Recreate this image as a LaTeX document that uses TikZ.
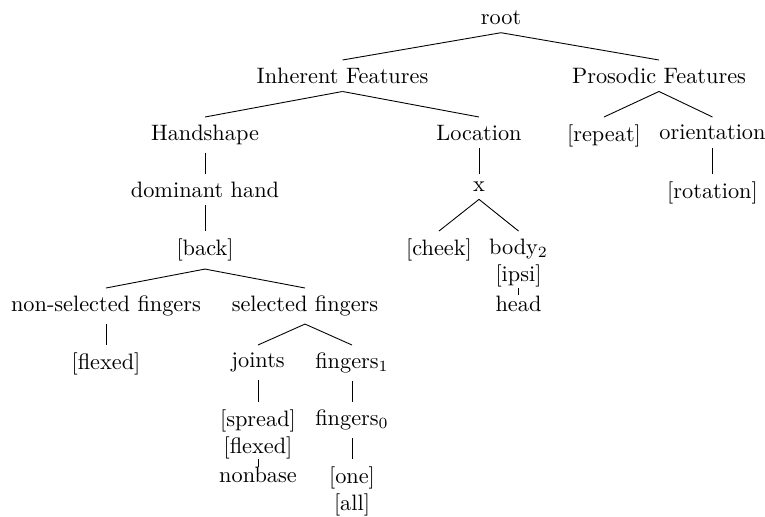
\documentclass[tikz,border=0pt]{standalone}
\begin{document}
\begin{tikzpicture}[x=0.4484pt,y=-0.4484pt,
  tn/.style={anchor=north, inner sep=3.33pt},
  mn/.style={anchor=north, inner sep=3.33pt, align=center},
  br/.style={draw, line width=0.4pt}]
\useasboundingbox (0,0) rectangle (765,516);
% level 0
\node[tn] (root) at (501,3) {root};
% level 1
\node[tn] (inh) at (342.5,60) {Inherent Features};
\node[tn] (pro) at (659,60) {Prosodic Features};
% level 2
\node[tn] (hand) at (205,117) {Handshape};
\node[tn] (loc) at (479,117) {Location};
\node[tn] (rep) at (604,117) {[repeat]};
\node[tn] (ori) at (712.5,117) {orientation};
% level 3
\node[tn] (dom) at (205,174) {dominant hand};
\node[tn] (x) at (479,174) {x};
\node[tn] (rot) at (712.5,174) {[rotation]};
% level 4
\node[tn] (back) at (205,231) {[back]};
\node[tn] (cheek) at (439,231) {[cheek]};
\node[mn] (body) at (518.5,231) {body$_2$\\[0pt][ipsi]};
% level 5
\node[tn] (nsf) at (106,288) {non-selected fingers};
\node[tn] (sf) at (305,288) {selected fingers};
\node[tn] (head) at (518.5,288) {head};
% level 6
\node[tn] (flx) at (106,345) {[flexed]};
\node[tn] (joi) at (258,345) {joints};
\node[tn] (fa) at (352,345) {fingers$_1$};
% level 7
\node[mn] (spr) at (258,402) {[spread]\\[0pt][flexed]};
\node[tn] (fb) at (352,402) {fingers$_0$};
% level 8
\node[tn] (nb) at (258,459) {nonbase};
\node[mn] (one) at (352,459) {[one]\\[0pt][all]};
% edges
\draw[br] (root.south) -- (inh.north);
\draw[br] (root.south) -- (pro.north);
\draw[br] (inh.south) -- (hand.north);
\draw[br] (inh.south) -- (loc.north);
\draw[br] (pro.south) -- (rep.north);
\draw[br] (pro.south) -- (ori.north);
\draw[br] (hand.south) -- (dom.north);
\draw[br] (loc.south) -- (x.north);
\draw[br] (ori.south) -- (rot.north);
\draw[br] (dom.south) -- (back.north);
\draw[br] (x.south) -- (cheek.north);
\draw[br] (x.south) -- (body.north);
\draw[br] (body.south) -- (head.north);
\draw[br] (back.south) -- (nsf.north);
\draw[br] (back.south) -- (sf.north);
\draw[br] (nsf.south) -- (flx.north);
\draw[br] (sf.south) -- (joi.north);
\draw[br] (sf.south) -- (fa.north);
\draw[br] (joi.south) -- (spr.north);
\draw[br] (fa.south) -- (fb.north);
\draw[br] (spr.south) -- (nb.north);
\draw[br] (fb.south) -- (one.north);
\end{tikzpicture}
\end{document}
